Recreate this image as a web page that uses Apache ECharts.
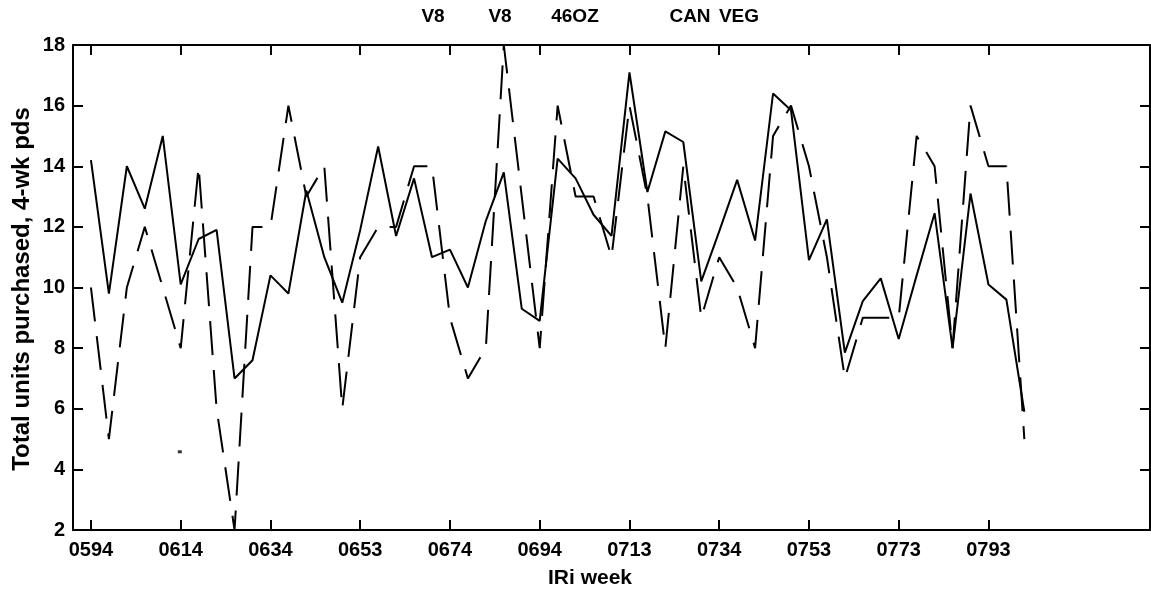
<!DOCTYPE html>
<html>
<head>
<meta charset="utf-8">
<script src="https://cdn.jsdelivr.net/npm/echarts@6/dist/echarts.min.js"></script>
<style>
  html, body { margin: 0; padding: 0; background: #fff; }
  #chart { width: 1151px; height: 595px; }
</style>
</head>
<body>
<div id="chart"></div>
<script>
  // tick labels (every 5th 4-week period)
  var weekLabels = ['0594', '0614', '0634', '0653', '0674', '0694', '0713', '0734', '0753', '0773', '0793']
  var yTicks = [2, 4, 6, 8, 10, 12, 14, 16, 18]

  // solid line
  var solidValues = [14.2, 9.8, 14.0, 12.6, 15.0, 10.1, 11.6, 11.9, 7.0, 7.6,
    10.4, 9.8, 13.2, 11.0, 9.5, 11.9, 14.65, 11.7, 13.6, 11.0,
    11.25, 10.0, 12.2, 13.8, 9.3, 8.9, 14.25, 13.6, 12.4, 11.7,
    17.1, 13.15, 15.15, 14.8, 10.2, 11.85, 13.55, 11.55, 16.4, 15.85,
    10.9, 12.25, 7.85, 9.55, 10.3, 8.3, 10.4, 12.45, 8.0, 13.1,
    10.1, 9.6, 5.9]

  // dashed line
  var dashedValues = [10, 5, 10, 12, 10, 8, 14, 6, 2, 12,
    12, 16, 13, 14, 6, 11, 12, 12, 14, 14,
    9, 7, 8, 18, 13, 8, 16, 13, 13, 11,
    16, 13, 8, 14, 9, 11, 10, 8, 15, 16,
    14, 11, 7, 9, 9, 9, 15, 14, 8, 16,
    14, 14, 5]

  // small stray mark near 0614
  var strayMark = [[4.95, 4.58]]

  var titleWords = ['V8', 'V8', '46OZ', 'CAN', 'VEG']
  var titleX = [433, 500, 575, 690, 739]

  var font = '"Liberation Sans", Arial, Helvetica, sans-serif'
  var tickPos = weekLabels.map(function (l, i) { return i * 5 })

  function toPairs(arr) {
    return arr.map(function (v, i) { return [i, v] })
  }

  var chart = echarts.init(document.getElementById('chart'))

  var axisLineStyle = { color: '#000', width: 2 }
  var tickStyle = { color: '#000', width: 2 }

  var graphics = titleWords.map(function (w, i) {
    return {
      type: 'text', x: titleX[i], y: 17,
      style: { text: w, font: 'bold 19px ' + font, fill: '#000', align: 'center', verticalAlign: 'middle' }
    }
  })
  // axis names
  graphics.push({
    type: 'text', x: 590, y: 578,
    style: { text: 'IRi week', font: 'bold 21px ' + font, fill: '#000', align: 'center', verticalAlign: 'middle' }
  })
  graphics.push({
    type: 'text', x: 22, y: 289, rotation: Math.PI / 2,
    style: { text: 'Total units purchased, 4-wk pds', font: 'bold 24px ' + font, fill: '#000', align: 'center', verticalAlign: 'middle' }
  })

  chart.setOption({
    animation: false,
    backgroundColor: '#fff',
    grid: {
      left: 73,
      right: 1,
      top: 45,
      bottom: 65
    },
    graphic: graphics,
    xAxis: [{
      type: 'value',
      min: -1,
      max: 59,
      position: 'bottom',
      splitLine: { show: false },
      axisLine: { onZero: false, lineStyle: axisLineStyle },
      axisTick: { inside: true, length: 10, customValues: tickPos, lineStyle: tickStyle },
      axisLabel: {
        customValues: tickPos,
        margin: 10,
        color: '#000',
        fontSize: 20,
        fontWeight: 'bold',
        fontFamily: font,
        formatter: function (v) { return weekLabels[Math.round(v / 5)] }
      }
    }, {
      type: 'value',
      min: -1,
      max: 59,
      position: 'top',
      splitLine: { show: false },
      axisLine: { onZero: false, lineStyle: axisLineStyle },
      axisTick: { inside: true, length: 10, customValues: tickPos, lineStyle: tickStyle },
      axisLabel: { show: false }
    }],
    yAxis: [{
      type: 'value',
      min: yTicks[0],
      max: yTicks[yTicks.length - 1],
      interval: 2,
      splitLine: { show: false },
      axisLine: { show: true, onZero: false, lineStyle: axisLineStyle },
      axisTick: { inside: true, length: 10, lineStyle: tickStyle },
      axisLabel: { margin: 8, color: '#000', fontSize: 20, fontWeight: 'bold', fontFamily: font }
    }, {
      type: 'value',
      min: yTicks[0],
      max: yTicks[yTicks.length - 1],
      interval: 2,
      position: 'right',
      splitLine: { show: false },
      axisLine: { show: true, onZero: false, lineStyle: axisLineStyle },
      axisTick: { inside: true, length: 10, lineStyle: tickStyle },
      axisLabel: { show: false }
    }],
    series: [{
      name: 'solid',
      type: 'line',
      symbol: 'none',
      data: toPairs(solidValues),
      lineStyle: { color: '#000', width: 2 }
    }, {
      name: 'dashed',
      type: 'line',
      symbol: 'none',
      data: toPairs(dashedValues),
      lineStyle: { color: '#000', width: 2, type: [34, 15] }
    }, {
      name: 'mark',
      type: 'scatter',
      symbol: 'rect',
      symbolSize: [4, 3],
      itemStyle: { color: '#000' },
      data: strayMark
    }]
  })
</script>
</body>
</html>
